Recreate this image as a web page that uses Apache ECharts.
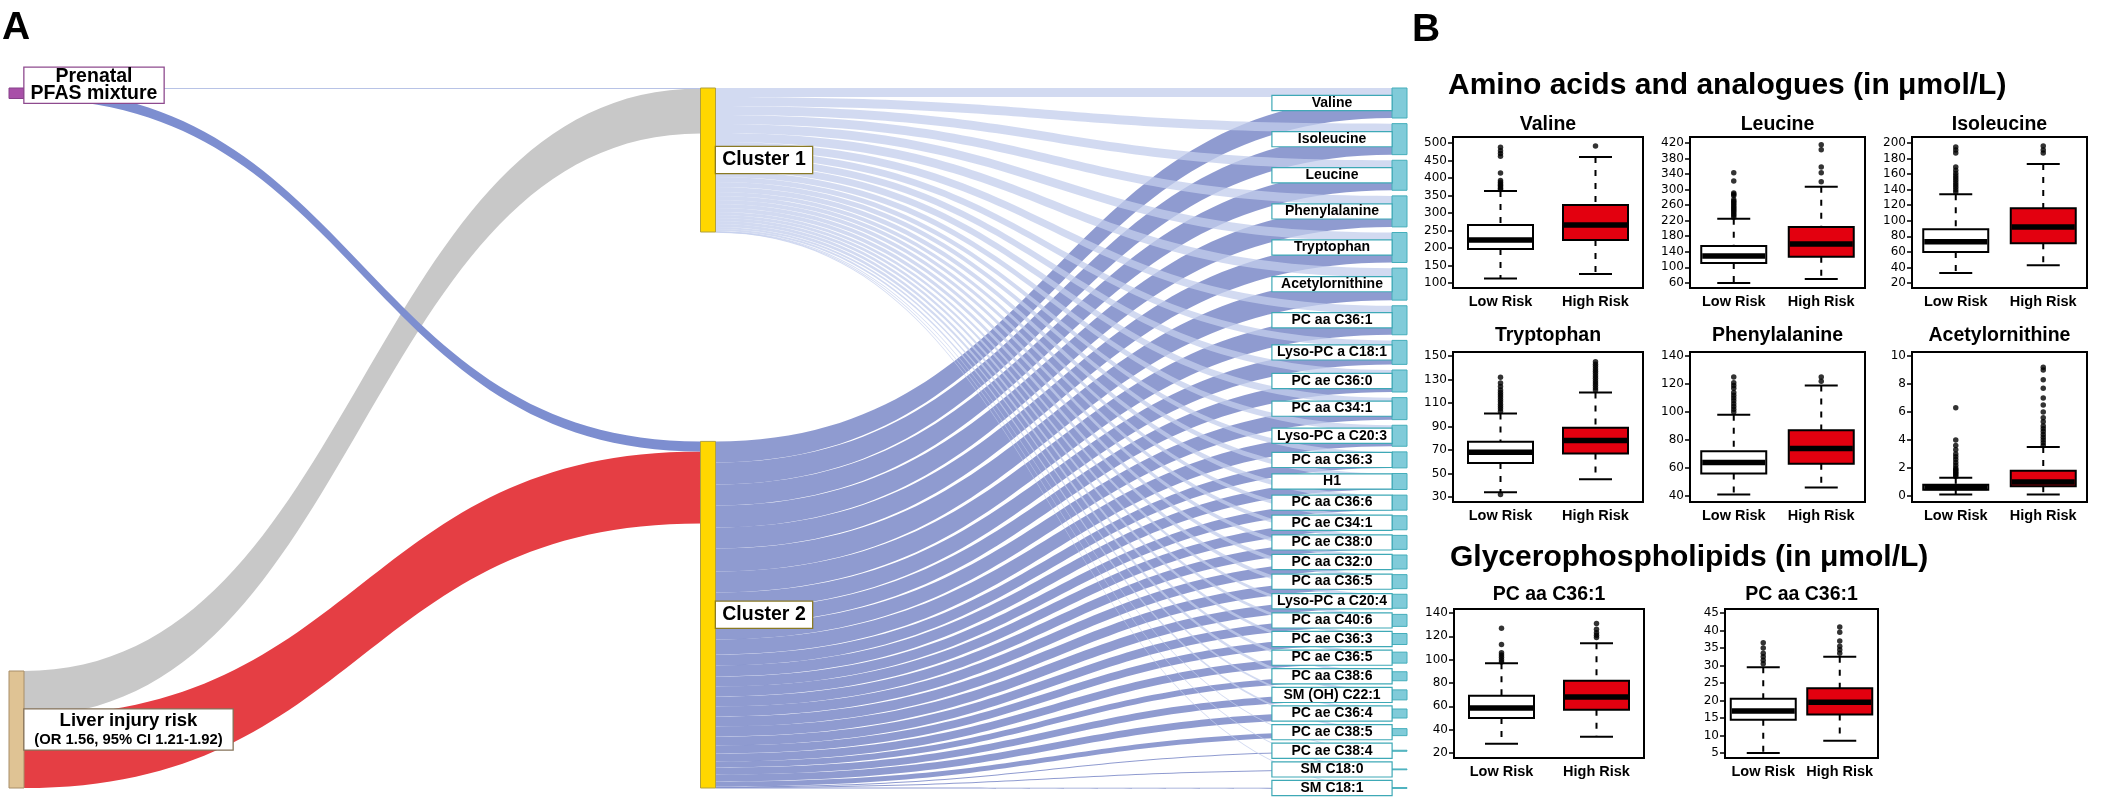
<!DOCTYPE html>
<html><head><meta charset="utf-8">
<script src="https://cdn.jsdelivr.net/npm/echarts@6/dist/echarts.min.js"></script>
<style>html,body{margin:0;padding:0;background:#fff}#c{width:2128px;height:799px}</style>
</head><body><div id="c"></div>
<script>
// ================= Panel A : Sankey data =================
const sourceNames = ['Prenatal PFAS mixture', 'Liver injury risk'];
const clusterNames = ['Cluster 1', 'Cluster 2'];
const pfasToCluster = [0.5, 10];      // PFAS -> Cluster 1, Cluster 2
const liverToCluster = [45, 72];      // Liver injury risk -> Cluster 1, Cluster 2
const metabolites = ['Valine','Isoleucine','Leucine','Phenylalanine','Tryptophan','Acetylornithine',
  'PC aa C36:1','Lyso-PC a C18:1','PC ae C36:0','PC aa C34:1','Lyso-PC a C20:3','PC aa C36:3','H1',
  'PC aa C36:6','PC ae C34:1','PC ae C38:0','PC aa C32:0','PC aa C36:5','Lyso-PC a C20:4','PC aa C40:6',
  'PC ae C36:3','PC ae C36:5','PC aa C38:6','SM (OH) C22:1','PC ae C36:4','PC ae C38:5','PC ae C38:4',
  'SM C18:0','SM C18:1'];
const fromCluster1 = [9,9,9,9,9,9,8,7,7,7,6,5,5,5,4,4,4,4,4,3,3,3,3,3,2,2,0.4,0.3,0.3];
const fromCluster2 = [21,22,21,22,21,23,21,17,15,15,15,11,11,10,10,10,10,10,10,9,8,8,6,7,7,5,0.6,0.5,0.5];

// ================= Panel B : box plot data =================
const riskGroups = ['Low Risk', 'High Risk'];
// [lower whisker, Q1, median, Q3, upper whisker]
const valineLow = [113,197,223,266,363];
const valineHigh = [126,223,266,323,460];
const valineLowOut = [367,371,375,379,383,388,393,414,462,470,478,488];
const valineHighOut = [491];
const valineTicks = [100,150,200,250,300,350,400,450,500];

const leucineLow = [60,111,129,155,225];
const leucineHigh = [70,127,160,204,307];
const leucineLowOut = [229,234,238,242,246,250,254,258,262,266,270,274,284,288,291,322,343];
const leucineHighOut = [320,343,358,402,415];
const leucineTicks = [60,100,140,180,220,260,300,340,380,420];

const isoleucineLow = [33,60,73,89,134];
const isoleucineHigh = [43,71,92,116,173];
const isoleucineLowOut = [137,140,143,146,149,152,155,158,161,165,169,187,191,195];
const isoleucineHighOut = [187,191,196];
const isoleucineTicks = [20,40,60,80,100,120,140,160,180,200];

const tryptophanLow = [34,59,68,77,101];
const tryptophanHigh = [45,67,78,89,119];
const tryptophanLowOut = [32,103,105,107,109,111,113,115,117,119,121,124,127,132];
const tryptophanHighOut = [121,123,125,127,129,131,133,135,137,139,141,143,145];
const tryptophanTicks = [30,50,70,90,110,130,150];

const phenylalanineLow = [41,56,64,72,98];
const phenylalanineHigh = [46,63,74,87,119];
const phenylalanineLowOut = [100,102,104,106,108,110,112,114,117,119,121,125];
const phenylalanineHighOut = [122,125];
const phenylalanineTicks = [40,60,80,100,120,140];

const acetylornithineLow = [0.1,0.45,0.6,0.8,1.3];
const acetylornithineHigh = [0.1,0.7,1.0,1.8,3.5];
const acetylornithineLowOut = [1.4,1.5,1.6,1.7,1.8,1.9,2.0,2.2,2.4,2.6,2.8,3.0,3.3,3.6,4.0,6.3];
const acetylornithineHighOut = [3.6,3.8,4.0,4.2,4.4,4.6,4.8,5.0,5.3,5.6,6.0,6.5,7.0,7.7,8.3,9.0,9.2];
const acetylornithineTicks = [0,2,4,6,8,10];

const pcA_Low = [28,50,58.5,69,97];
const pcA_High = [34,57,68,82,114];
const pcA_LowOut = [98,100,102,104,106,113,127];
const pcA_HighOut = [119,121,123,126,131];
const pcA_Ticks = [20,40,60,80,100,120,140];

const pcB_Low = [5,14.5,17,20.5,29.5];
const pcB_High = [8.5,16,19.5,23.5,32.5];
const pcB_LowOut = [30.5,31.5,32.5,33.5,35,36.5];
const pcB_HighOut = [33.5,34.5,35.5,37,39.5,41];
const pcB_Ticks = [5,10,15,20,25,30,35,40,45];

const panelTitles = ['Valine','Leucine','Isoleucine','Tryptophan','Phenylalanine','Acetylornithine','PC aa C36:1','PC aa C36:1'];
const sectionTitles = ['Amino acids and analogues (in \u03bcmol/L)', 'Glycerophospholipids (in \u03bcmol/L)'];

// ================= layout / style (not data) =================
const W = 2128, HTOT = 799;
const SK = {left: 9, top: 88, right: 721, bottom: 11};
const SKH = HTOT - SK.top - SK.bottom;
const FONT = '"Liberation Sans", Arial, sans-serif';

const panels = [
  {low: valineLow, high: valineHigh, lo: valineLowOut, ho: valineHighOut, ticks: valineTicks, range: [86, 517]},
  {low: leucineLow, high: leucineHigh, lo: leucineLowOut, ho: leucineHighOut, ticks: leucineTicks, range: [47, 435]},
  {low: isoleucineLow, high: isoleucineHigh, lo: isoleucineLowOut, ho: isoleucineHighOut, ticks: isoleucineTicks, range: [13.6, 207.7]},
  {low: tryptophanLow, high: tryptophanHigh, lo: tryptophanLowOut, ho: tryptophanHighOut, ticks: tryptophanTicks, range: [25.7, 153.4]},
  {low: phenylalanineLow, high: phenylalanineHigh, lo: phenylalanineLowOut, ho: phenylalanineHighOut, ticks: phenylalanineTicks, range: [35.7, 142.9]},
  {low: acetylornithineLow, high: acetylornithineHigh, lo: acetylornithineLowOut, ho: acetylornithineHighOut, ticks: acetylornithineTicks, range: [-0.43, 10.29]},
  {low: pcA_Low, high: pcA_High, lo: pcA_LowOut, ho: pcA_HighOut, ticks: pcA_Ticks, range: [15.7, 143.4]},
  {low: pcB_Low, high: pcB_High, lo: pcB_LowOut, ho: pcB_HighOut, ticks: pcB_Ticks, range: [3.6, 46.1]}
];
const gridBoxes = [
  {left: 1453, top: 137, width: 190, height: 151},
  {left: 1690, top: 137, width: 175, height: 151},
  {left: 1912, top: 137, width: 175, height: 151},
  {left: 1453, top: 352, width: 190, height: 150},
  {left: 1690, top: 352, width: 175, height: 150},
  {left: 1912, top: 352, width: 175, height: 150},
  {left: 1454, top: 609, width: 190, height: 149},
  {left: 1725, top: 609, width: 153, height: 149}
];
const titleY = [124.5, 124.5, 124.5, 335.5, 335.5, 335.5, 594.5, 594.5];

// ================= Sankey construction =================
const sum = a => a.reduce((s, v) => s + v, 0);
const metaVals = metabolites.map((m, i) => fromCluster1[i] + fromCluster2[i]);
const nodeGap = (SKH - sum(metaVals)) / (metabolites.length - 1); // makes 1 value unit = 1px
const ky = (SKH - (metabolites.length - 1) * nodeGap) / sum(metaVals);

// label-aware stacking of the last column (each node gets at least one label slot)
const slotMin = 13;
const slots = metaVals.map(v => Math.max(v * ky, slotMin));
const slotGap = (SKH + 6.5 - sum(slots)) / (metabolites.length - 1);
let cum = 0;
const metaLocalY = metaVals.map((v, i) => {
  const h = v * ky;
  const y = cum + (slots[i] - h) / 2;
  cum += slots[i] + slotGap;
  return y / SKH;
});
const liverVal = sum(liverToCluster);
const cluster2Val = Math.max(pfasToCluster[1] + liverToCluster[1], sum(fromCluster2));

const boldTxt = (size, lh, w) => ({fontSize: size, fontWeight: 'bold', fontFamily: FONT, color: '#000', lineHeight: lh, width: w, align: 'center'});

const nodes = [
  {name: sourceNames[0], localY: 0,
   itemStyle: {color: '#a850a8', borderColor: '#86408a', borderWidth: 1},
   label: {position: 'right', distance: 0, offset: [0, -8], formatter: '{a|Prenatal}\n{a|PFAS mixture}',
     backgroundColor: '#fff', borderColor: '#8e4a8e', borderWidth: 1.3, padding: [1, 3],
     rich: {a: boldTxt(19.5, 16.5, 133)}}},
  {name: sourceNames[1], localY: (SKH - liverVal * ky) / SKH,
   itemStyle: {color: '#dfc394', borderColor: '#a88e68', borderWidth: 1},
   label: {position: 'right', distance: 0, formatter: '{a|Liver injury risk}\n{b|(OR 1.56, 95% CI 1.21-1.92)}',
     backgroundColor: '#fff', borderColor: '#85735a', borderWidth: 1.3, padding: [1, 4],
     rich: {a: boldTxt(18.5, 21, 200), b: boldTxt(14.8, 17, 200)}}},
  {name: clusterNames[0], localY: 0,
   itemStyle: {color: '#ffd700', borderColor: '#b0a040', borderWidth: 1},
   label: {position: 'right', distance: 0, formatter: '{a|{b}}', backgroundColor: '#fff', borderColor: '#8a7a24',
     borderWidth: 1.3, padding: [3, 5], rich: {a: boldTxt(19.5, 20, 86)}}},
  {name: clusterNames[1], localY: (SKH - cluster2Val * ky) / SKH,
   itemStyle: {color: '#ffd700', borderColor: '#b0a040', borderWidth: 1},
   label: {position: 'right', distance: 0, formatter: '{a|{b}}', backgroundColor: '#fff', borderColor: '#8a7a24',
     borderWidth: 1.3, padding: [3, 5], rich: {a: boldTxt(19.5, 20, 86)}}}
].concat(metabolites.map((m, i) => ({
  name: m, localY: metaLocalY[i],
  itemStyle: {color: '#80cbd9', borderColor: '#45aebb', borderWidth: 1},
  label: {position: 'left', distance: 0, formatter: '{t|{b}}', backgroundColor: '#fff', borderColor: '#3ea9b6',
    borderWidth: 1.2, padding: [0, 3], rich: {t: boldTxt(14, 14, 113)}}
})));

const links = [
  {source: sourceNames[1], target: clusterNames[0], value: liverToCluster[0], lineStyle: {color: '#c8c8c8', opacity: 1}},
  {source: sourceNames[1], target: clusterNames[1], value: liverToCluster[1], lineStyle: {color: '#e53e44', opacity: 1}},
  {source: sourceNames[0], target: clusterNames[1], value: pfasToCluster[1], lineStyle: {color: '#7d8ed0', opacity: 1}},
  {source: sourceNames[0], target: clusterNames[0], value: pfasToCluster[0], lineStyle: {color: '#b8c3e6', opacity: 1}}
].concat(metabolites.map((m, i) => ({source: clusterNames[1], target: m, value: fromCluster2[i],
  lineStyle: {color: '#8390cb', opacity: 0.9}})))
 .concat(metabolites.map((m, i) => ({source: clusterNames[0], target: m, value: fromCluster1[i],
  lineStyle: {color: '#c3cdec', opacity: 0.75}})));

// ================= Box plot construction =================
const BOX_W = 65, CAP_W = 33;
function boxRender(params, api) {
  const x = api.value(0);
  const lo = api.coord([x, api.value(1)]), q1 = api.coord([x, api.value(2)]);
  const md = api.coord([x, api.value(3)]), q3 = api.coord([x, api.value(4)]);
  const hi = api.coord([x, api.value(5)]);
  const cx = lo[0];
  const fill = x === 0 ? '#ffffff' : '#e3000f';
  const dash = {stroke: '#000', lineWidth: 2, lineDash: [6, 7]};
  const solid = {stroke: '#000', lineWidth: 2};
  return {type: 'group', children: [
    {type: 'line', shape: {x1: cx, y1: hi[1], x2: cx, y2: q3[1]}, style: dash},
    {type: 'line', shape: {x1: cx, y1: q1[1], x2: cx, y2: lo[1]}, style: dash},
    {type: 'line', shape: {x1: cx - CAP_W / 2, y1: hi[1], x2: cx + CAP_W / 2, y2: hi[1]}, style: solid},
    {type: 'line', shape: {x1: cx - CAP_W / 2, y1: lo[1], x2: cx + CAP_W / 2, y2: lo[1]}, style: solid},
    {type: 'rect', shape: {x: cx - BOX_W / 2, y: q3[1], width: BOX_W, height: q1[1] - q3[1]}, style: {fill: fill, stroke: '#000', lineWidth: 2}},
    {type: 'line', shape: {x1: cx - BOX_W / 2 + 1, y1: md[1], x2: cx + BOX_W / 2 - 1, y2: md[1]}, style: {stroke: '#000', lineWidth: 5.5}}
  ]};
}

const grids = [], xAxes = [], yAxes = [], series = [];
const graphics = [];
panels.forEach((p, i) => {
  const g = gridBoxes[i];
  grids.push({left: g.left, top: g.top, width: g.width, height: g.height, show: true, borderColor: '#000', borderWidth: 2, containLabel: false});
  xAxes.push({type: 'category', gridIndex: i, data: riskGroups, boundaryGap: true,
    axisLine: {show: false}, axisTick: {show: false}, splitLine: {show: false},
    axisLabel: {interval: 0, fontSize: 14.5, fontWeight: 'bold', fontFamily: FONT, color: '#000', margin: 6}});
  yAxes.push({type: 'value', gridIndex: i, min: p.range[0], max: p.range[1],
    axisLine: {show: false}, splitLine: {show: false},
    axisTick: {show: true, length: 5, lineStyle: {color: '#000', width: 1.5}, customValues: p.ticks},
    axisLabel: {customValues: p.ticks, fontSize: 12, fontFamily: '"DejaVu Sans", sans-serif', color: '#000', margin: 6}});
  series.push({type: 'custom', xAxisIndex: i, yAxisIndex: i, renderItem: boxRender,
    encode: {x: 0, y: [1, 2, 3, 4, 5]},
    data: [[0].concat(p.low), [1].concat(p.high)]});
  series.push({type: 'scatter', xAxisIndex: i, yAxisIndex: i, symbolSize: 5.5,
    itemStyle: {color: '#000'},
    data: p.lo.map(v => [0, v]).concat(p.ho.map(v => [1, v]))});
  graphics.push({type: 'text', style: {text: panelTitles[i], x: g.left + g.width / 2, y: titleY[i],
    font: 'bold 19.5px ' + FONT, fill: '#000', textAlign: 'center', align: 'center', textVerticalAlign: 'middle', verticalAlign: 'middle'}});
});

series.unshift({
  type: 'sankey', left: SK.left, top: SK.top, right: SK.right, bottom: SK.bottom,
  nodeWidth: 15, nodeGap: nodeGap, layoutIterations: 0, draggable: false,
  emphasis: {focus: 'none'},
  lineStyle: {curveness: 0.5},
  data: nodes, links: links
});

graphics.push(
  {type: 'text', style: {text: 'A', x: 2, y: 28, font: 'bold 39px ' + FONT, fill: '#000', textVerticalAlign: 'middle', verticalAlign: 'middle'}},
  {type: 'text', style: {text: 'B', x: 1412, y: 30, font: 'bold 39px ' + FONT, fill: '#000', textVerticalAlign: 'middle', verticalAlign: 'middle'}},
  {type: 'text', style: {text: sectionTitles[0], x: 1448, y: 86, font: 'bold 30px ' + FONT, fill: '#000', textVerticalAlign: 'middle', verticalAlign: 'middle'}},
  {type: 'text', style: {text: sectionTitles[1], x: 1450, y: 557.5, font: 'bold 30px ' + FONT, fill: '#000', textVerticalAlign: 'middle', verticalAlign: 'middle'}}
);

const chart = echarts.init(document.getElementById('c'), null, {renderer: 'canvas'});
chart.setOption({
  animation: false,
  backgroundColor: '#fff',
  grid: grids, xAxis: xAxes, yAxis: yAxes, series: series,
  graphic: {elements: graphics}
});
</script></body></html>
